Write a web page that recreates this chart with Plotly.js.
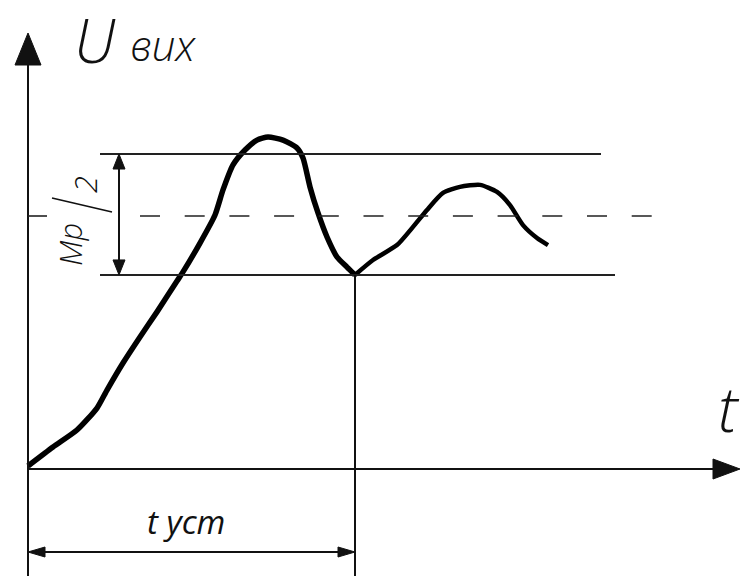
<!DOCTYPE html>
<html>
<head>
<meta charset="utf-8">
<script src="https://cdn.plot.ly/plotly-3.0.1.min.js"></script>
<style>html,body{margin:0;padding:0;background:#fff;}#chart{width:741px;height:576px;}</style>
</head>
<body>
<div id="chart"></div>
<script>
// ---- data ----
const tValues = [0, 0.765, 1.498, 2.110, 2.416, 2.905, 3.425, 3.945, 4.557, 4.740, 5.260, 5.719, 5.963, 6.269, 6.636, 7.003, 7.339, 7.798, 8.226, 8.410, 8.624, 8.869, 9.144, 9.450, 9.755, 10.0, 10.550, 11.284, 11.774, 12.202, 12.691, 13.211, 13.823, 14.343, 14.740, 15.138, 15.566, 15.902];
const uValues = [0.012, 0.087, 0.154, 0.241, 0.312, 0.419, 0.522, 0.621, 0.743, 0.779, 0.893, 1.004, 1.103, 1.202, 1.261, 1.300, 1.312, 1.300, 1.269, 1.229, 1.115, 1.012, 0.917, 0.838, 0.798, 0.767, 0.826, 0.885, 0.957, 1.024, 1.091, 1.115, 1.123, 1.095, 1.043, 0.964, 0.913, 0.885];
const steadyValue = 1.0;
const bandUpper = 1.245;
const bandLower = 0.767;
const tSettle = 10;
const yLabelMain = "U";
const yLabelSub = "вих";
const xLabel = "t";
const settleLabel = "t уст";
const bandLabelMain = "Mp";
const bandLabelSub = "2";

// ---- layout geometry (pixel scale of the axes) ----
const W = 741, H = 576;
const ox = 28, oy = 469;          // origin in pixels
const sx = 32.7, sy = 253;        // pixels per data unit
const X = px => (px - ox) / sx;   // pixel -> data
const Y = py => (oy - py) / sy;
const dX = p => p / sx, dY = p => p / sy;
const xr = [X(0), X(W)], yr = [Y(H), Y(0)];

const ink = '#111';
const shapes = [];
function line(x0, y0, x1, y1, w, dash, col) {
  shapes.push({type: 'line', xref: 'x', yref: 'y', x0, y0, x1, y1,
    line: {color: col || ink, width: w || 2, dash: dash || 'solid'}});
}
function tri(pts) {
  const d = 'M' + pts.map(p => p[0] + ',' + p[1]).join(' L') + ' Z';
  shapes.push({type: 'path', xref: 'x', yref: 'y', path: d, fillcolor: ink, line: {color: ink, width: 1}});
}

// axes
const yTopBase = Y(65), yTip = Y(33);
line(0, yr[0], 0, yTopBase, 2);
tri([[-dX(13), yTopBase], [dX(13), yTopBase], [0, yTip]]);
const xBase = X(713), xTip = X(740);
line(0, 0, xBase, 0, 2);
tri([[xBase, dY(10)], [xBase, -dY(10)], [xTip, 0]]);

// band lines
line(X(100), bandUpper, X(601), bandUpper, 2, 'solid', '#222');
line(X(100), bandLower, X(615), bandLower, 2, 'solid', '#222');
// steady (dashed) line
line(0, steadyValue, X(47), steadyValue, 1.6, 'solid', '#222');
line(X(140), steadyValue, X(652), steadyValue, 1.6, '20px,24.7px', '#222');
// settling time vertical
line(tSettle, bandLower, tSettle, yr[0], 2);

// vertical double arrow (Mp/2)
const ax = X(119);
line(ax, bandUpper - dY(10), ax, bandLower + dY(10), 2);
tri([[ax - dX(6), bandUpper - dY(15)], [ax + dX(6), bandUpper - dY(15)], [ax, bandUpper]]);
tri([[ax - dX(6), bandLower + dY(15)], [ax + dX(6), bandLower + dY(15)], [ax, bandLower]]);

// horizontal double arrow (t уст)
const ay = Y(552);
line(dX(10), ay, tSettle - dX(10), ay, 2);
tri([[dX(17), ay + dY(5)], [dX(17), ay - dY(5)], [0, ay]]);
tri([[tSettle - dX(17), ay + dY(5)], [tSettle - dX(17), ay - dY(5)], [tSettle, ay]]);

// slash of Mp/2
line(X(52), Y(198), X(112), Y(212), 1.6);

const fam = '"Open Sans", "DejaVu Sans", sans-serif';
function ann(text, x, y, size, angle, weight) {
  return {text, x, y, xref: 'x', yref: 'y', showarrow: false, xanchor: 'center', yanchor: 'middle',
    textangle: angle || 0,
    font: {family: fam, size, color: ink, style: 'italic', weight: weight || 300}};
}
const annotations = [
  ann(yLabelMain, X(95), Y(40), 60),
  ann(yLabelSub, X(163), Y(44), 42),
  ann(xLabel, X(729), Y(408), 62),
  ann(settleLabel, X(186), Y(521), 33, 0, 400),
  ann(bandLabelMain, X(70), Y(245), 31, -90),
  ann(bandLabelSub, X(85), Y(185), 31, -90)
];

// curve drawn as two smooth pieces meeting at the sharp minimum
const iMin = uValues.indexOf(Math.min(...uValues.slice(10)), 10);
const curveLine = {color: '#000', width: 5.5, shape: 'spline', smoothing: 0.6};
const trace1 = {x: tValues.slice(0, iMin + 1), y: uValues.slice(0, iMin + 1), type: 'scatter', mode: 'lines',
  line: curveLine, hoverinfo: 'skip'};
const trace2 = {x: tValues.slice(iMin), y: uValues.slice(iMin), type: 'scatter', mode: 'lines',
  line: {color: '#000', width: 4.5, shape: 'spline', smoothing: 0.6}, hoverinfo: 'skip'};

const layout = {
  width: W, height: H, margin: {l: 0, r: 0, t: 0, b: 0},
  paper_bgcolor: '#fff', plot_bgcolor: '#fff', showlegend: false,
  xaxis: {range: xr, visible: false, fixedrange: true},
  yaxis: {range: yr, visible: false, fixedrange: true},
  shapes, annotations
};
Plotly.newPlot('chart', [trace1, trace2], layout, {displayModeBar: false, staticPlot: true});
</script>
</body>
</html>
